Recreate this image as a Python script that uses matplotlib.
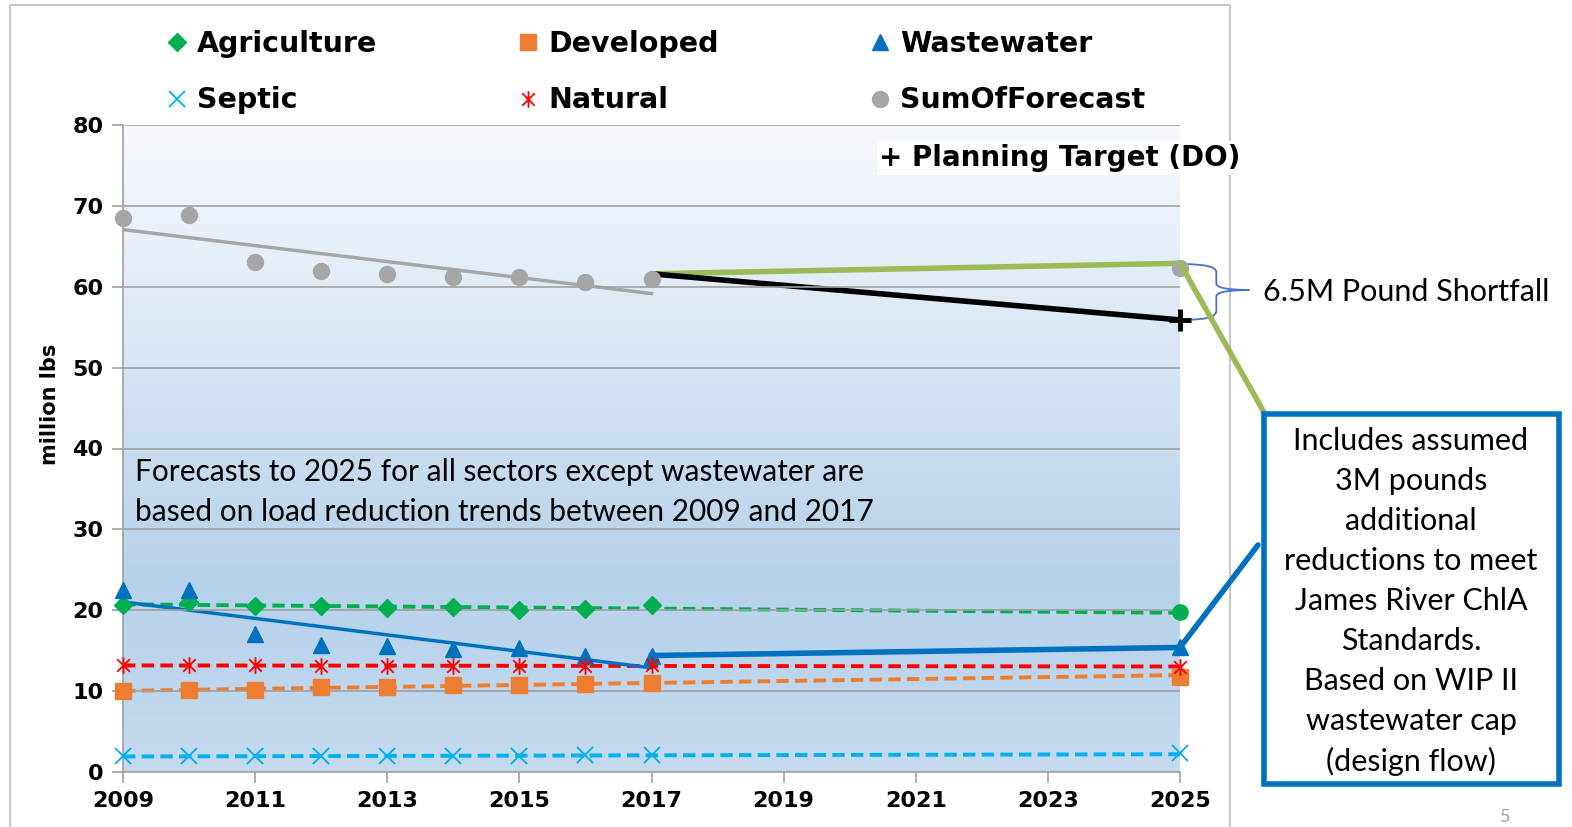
import numpy as np
import matplotlib
matplotlib.use('Agg')
import matplotlib.pyplot as plt
from matplotlib.colors import LinearSegmentedColormap
from matplotlib.patches import Rectangle, PathPatch
from matplotlib.path import Path
from matplotlib.lines import Line2D

# observed loads, million lbs
years = [2009, 2010, 2011, 2012, 2013, 2014, 2015, 2016, 2017]
agriculture = [20.7, 21.0, 20.5, 20.5, 20.3, 20.4, 20.0, 20.2, 20.6]
developed = [10.0, 10.2, 10.2, 10.5, 10.5, 10.7, 10.7, 10.9, 11.0]
wastewater = [22.5, 22.5, 17.1, 15.7, 15.6, 15.2, 15.3, 14.3, 14.4]
septic = [1.95, 1.95, 1.95, 1.95, 1.95, 2.0, 2.0, 2.05, 2.1]
natural = [13.2, 13.2, 13.2, 13.1, 13.1, 13.1, 13.1, 13.1, 13.2]
sum_forecast = [68.5, 68.9, 63.0, 62.0, 61.6, 61.2, 61.2, 60.6, 61.0]

# 2025 forecasts
year_2025 = 2025
agriculture_2025 = 19.8
developed_2025 = 11.7
wastewater_2025 = 15.4
septic_2025 = 2.3
natural_2025 = 13.0
sum_2025 = 62.3
target_2025 = 55.9
sum_2017_line = 61.6
sum_2025_line = 62.9

box_lines = ["Includes assumed", "3M pounds", "additional", "reductions to meet",
             "James River ChlA", "Standards.", "Based on WIP II",
             "wastewater cap", "(design flow)"]
note_lines = ["Forecasts to 2025 for all sectors except wastewater are",
              "based on load reduction trends between 2009 and 2017"]

W, H = 1572, 827
fig = plt.figure(figsize=(W / 100, H / 100), dpi=100)
ax = fig.add_axes([123 / W, 55 / H, (1180 - 123) / W, (772 - 125) / H])

# background gradient
cmap = LinearSegmentedColormap.from_list(
    'bg', [(0.0, '#c4daef'), (0.3, '#b6d2eb'), (0.7, '#dde9f5'), (1.0, '#f6f9fd')])
grad = np.linspace(0, 1, 256).reshape(-1, 1)
ax.imshow(grad, cmap=cmap, origin='lower', aspect='auto',
          extent=[2009, 2025, 0, 80], zorder=0)

ax.set_xlim(2009, 2025)
ax.set_ylim(0, 80)
ax.set_xticks(range(2009, 2026, 2))
ax.set_yticks(range(0, 81, 10))
ax.yaxis.grid(True, color='#a0a0a0', lw=1.2, zorder=0.5)
ax.set_axisbelow(False)
for s in ['top', 'right']:
    ax.spines[s].set_visible(False)
for s in ['left', 'bottom']:
    ax.spines[s].set_color('#a0a0a0')
    ax.spines[s].set_linewidth(1.2)
ax.tick_params(length=8, width=1.2, color='#a0a0a0', labelsize=16, pad=6)
for lab in ax.get_xticklabels() + ax.get_yticklabels():
    lab.set_fontweight('bold')
ax.set_ylabel('million lbs', fontsize=15, fontweight='bold')
ax.yaxis.set_label_coords(-0.06, 0.569)

star = Path([(0, -1), (0, 1), (-0.75, -0.75), (0.75, 0.75), (-0.75, 0.75), (0.75, -0.75)],
            [Path.MOVETO, Path.LINETO, Path.MOVETO, Path.LINETO, Path.MOVETO, Path.LINETO])

green, orange, blue = '#00b050', '#ed7d31', '#0070c0'
lblue, red, grey = '#00b0f0', '#ff0000', '#a6a6a6'
dash = (3.2, 1.6)

x_ext = [2009, 2025]
x_obs = [2009, 2017]

# dashed sector trends extended to 2025
for vals, c in [(agriculture, green), (developed, orange), (natural, red), (septic, lblue)]:
    fit = np.polyfit(years, vals, 1)
    ax.plot(x_ext, np.polyval(fit, x_ext), color=c, lw=2.8, dashes=dash, zorder=2)

# trends for sum and wastewater 2009-2017
fit = np.polyfit(years, sum_forecast, 1)
ax.plot(x_obs, np.polyval(fit, x_obs), color=grey, lw=2.5, zorder=2)
fit = np.polyfit(years, wastewater, 1)
ax.plot(x_obs, np.polyval(fit, x_obs), color=blue, lw=2.5, zorder=2)

# 2017 -> 2025 lines
ax.plot([2017, year_2025], [wastewater[-1], wastewater_2025], color=blue, lw=4, zorder=2)
ax.plot([2017, year_2025], [sum_2017_line, sum_2025_line], color='#9bbb59', lw=4,
        zorder=2.5, solid_capstyle='butt')
ax.plot([2017, year_2025], [sum_2017_line, target_2025], color='black', lw=4,
        zorder=2.5, solid_capstyle='butt')
ax.plot([year_2025], [target_2025], marker='+', color='black', ms=16, mew=3.5,
        zorder=4, clip_on=False)

# markers
h_agr, = ax.plot(years, agriculture, 'D', color=green, ms=9, ls='none', zorder=3,
                 clip_on=False, label='Agriculture')
h_dev, = ax.plot(years, developed, 's', color=orange, ms=12, ls='none', zorder=3,
                 clip_on=False, label='Developed')
h_ww, = ax.plot(years, wastewater, '^', color=blue, ms=11, ls='none', zorder=3,
                clip_on=False, label='Wastewater')
h_sep, = ax.plot(years, septic, 'x', color=lblue, ms=11, mew=1.3, ls='none', zorder=3,
                 clip_on=False, label='Septic')
h_nat, = ax.plot(years, natural, marker=star, color=red, ms=12, mew=1.3, ls='none',
                 zorder=3, clip_on=False, label='Natural')
h_sum, = ax.plot(years, sum_forecast, 'o', color=grey, ms=11.5, ls='none', zorder=3,
                 clip_on=False, label='SumOfForecast')

ax.plot([year_2025], [agriculture_2025], 'o', color=green, ms=11, zorder=3, clip_on=False)
ax.plot([year_2025], [developed_2025], 's', color=orange, ms=12, zorder=3, clip_on=False)
ax.plot([year_2025], [wastewater_2025], '^', color=blue, ms=11, zorder=3, clip_on=False)
ax.plot([year_2025], [septic_2025], 'x', color=lblue, ms=11, mew=1.3, zorder=3, clip_on=False)
ax.plot([year_2025], [natural_2025], marker=star, color=red, ms=12, mew=1.3, zorder=3,
        clip_on=False)
ax.plot([year_2025], [sum_2025], 'o', color=grey, ms=11.5, zorder=2.7, clip_on=False)

# legend: one column block per pair so each column sits where the reference has it
for handles, x0 in [([h_agr, h_sep], 163), ([h_dev, h_nat], 514), ([h_ww, h_sum], 866)]:
    fig.legend(handles=handles, ncol=1, loc='upper left',
               bbox_to_anchor=(x0 / W, (H - 30) / H), frameon=False, borderpad=0,
               borderaxespad=0, handlelength=1.0, handletextpad=0.2,
               labelspacing=1.0, prop=dict(weight='bold', size=20.5))

ax.text(2020.45, 75.9, '+ Planning Target (DO)', fontsize=20, fontweight='bold',
        va='center', ha='left', zorder=5,
        bbox=dict(facecolor='white', edgecolor='none', pad=2))

for i, line in enumerate(note_lines):
    fig.text(135 / W, (H - 472 - 40 * i) / H, line, fontsize=21.5, family='Lato',
             va='center', ha='left')

# brace for the shortfall
bx0, bx1, bx2 = 2025.06, 2025.55, 2026.05
bp = Path([(bx0, 62.8), (bx1, 62.8), (bx1, 61.8), (bx1, 60.4), (bx1, 59.6), (bx2, 59.6),
           (bx1, 59.6), (bx1, 58.8), (bx1, 57.0), (bx1, 55.9), (bx0, 55.9)],
          [Path.MOVETO, Path.CURVE3, Path.CURVE3, Path.LINETO, Path.CURVE3, Path.CURVE3,
           Path.CURVE3, Path.CURVE3, Path.LINETO, Path.CURVE3, Path.CURVE3])
ax.add_patch(PathPatch(bp, facecolor='none', edgecolor='#4472c4', lw=1.3, clip_on=False))
fig.text(1263 / W, (H - 292) / H, '6.5M Pound Shortfall', fontsize=22, family='Lato',
         va='center', ha='left')

# callout box
fig.add_artist(Rectangle((1264 / W, (H - 784) / H), (1559 - 1264) / W, (784 - 414) / H,
                         transform=fig.transFigure, facecolor='white', edgecolor=blue,
                         lw=4, zorder=3))
for i, line in enumerate(box_lines):
    fig.text(1411 / W, (H - 441 - 40 * i) / H, line, fontsize=22, family='Lato',
             va='center', ha='center', zorder=4)

ax.annotate('', xy=(year_2025, sum_2025_line), xycoords='data',
            xytext=(1265, H - 414), textcoords='figure pixels',
            arrowprops=dict(arrowstyle='-', color='#9bbb59', lw=4,
                            shrinkA=0, shrinkB=0))
ax.annotate('', xy=(year_2025, wastewater_2025), xycoords='data',
            xytext=(1258, H - 545), textcoords='figure pixels',
            arrowprops=dict(arrowstyle='-', color=blue, lw=4, shrinkA=0, shrinkB=0))

# slide frame
fc = '#c8c8c8'
fig.add_artist(Line2D([10 / W, 10 / W, 1230 / W, 1230 / W], [0, (H - 5) / H, (H - 5) / H, 0],
                      transform=fig.transFigure, color=fc, lw=1.5, zorder=0))
fig.text(1505 / W, 2 / H, '5', fontsize=13, color='#a0a0a0', family='Lato',
         ha='center', va='bottom')

fig.savefig('out.png', dpi=100)
